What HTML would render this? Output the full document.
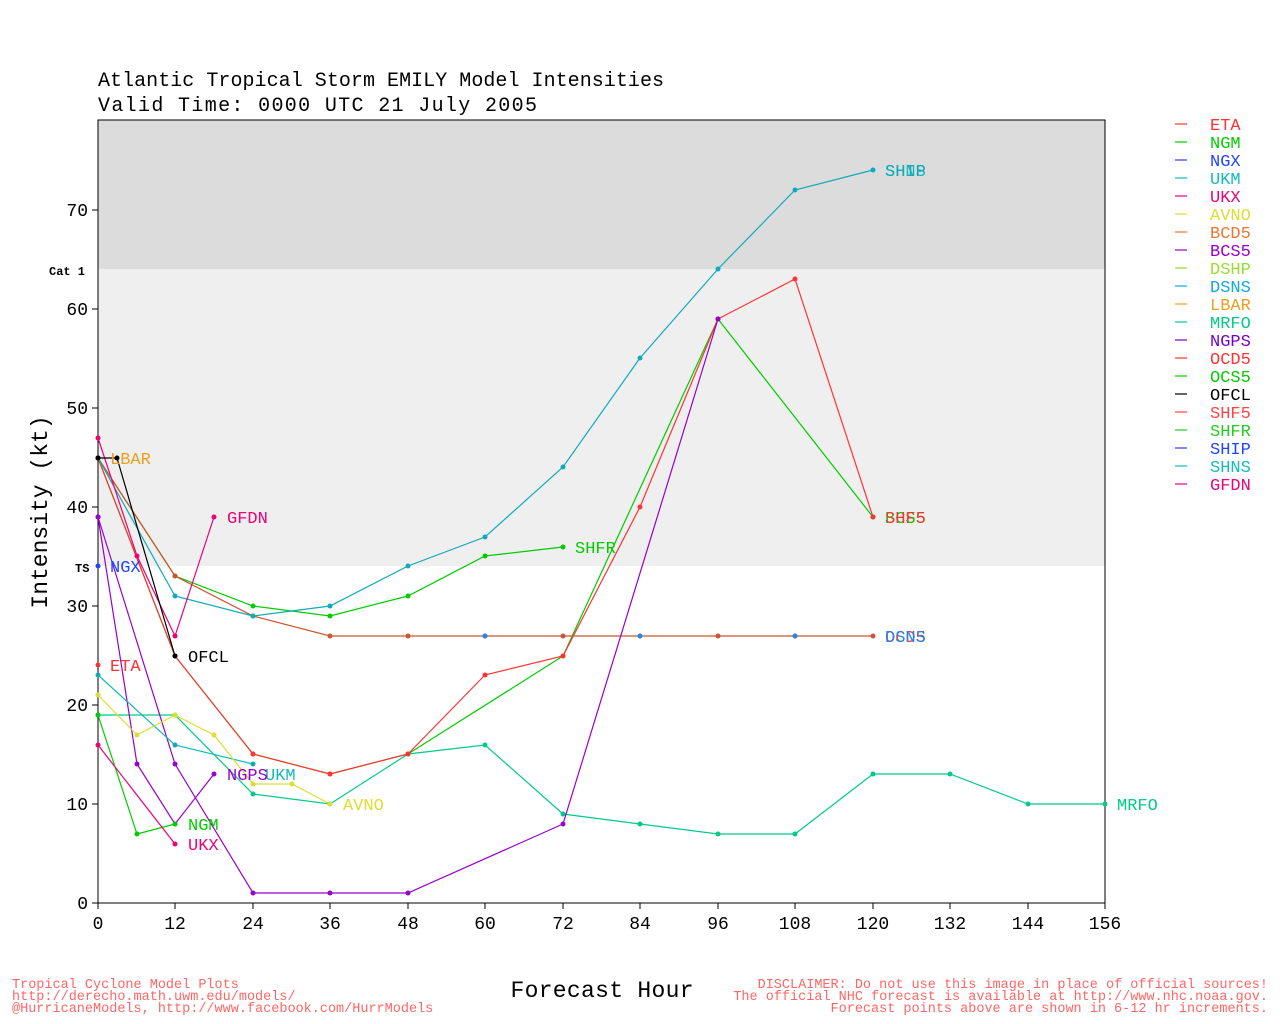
<!DOCTYPE html>
<html><head><meta charset="utf-8"><style>
body{margin:0;background:#fff}
svg{display:block;font-family:"Liberation Mono","DejaVu Sans Mono",monospace}
</style></head><body>
<svg width="1280" height="1024" viewBox="0 0 1280 1024" xmlns="http://www.w3.org/2000/svg">
<defs>
<marker id="mr" markerWidth="6" markerHeight="6" refX="3" refY="3" markerUnits="userSpaceOnUse"><circle cx="3" cy="3" r="2.5" fill="#f33"/></marker>
<marker id="mg" markerWidth="6" markerHeight="6" refX="3" refY="3" markerUnits="userSpaceOnUse"><circle cx="3" cy="3" r="2.5" fill="#0c0"/></marker>
<marker id="mc" markerWidth="6" markerHeight="6" refX="3" refY="3" markerUnits="userSpaceOnUse"><circle cx="3" cy="3" r="2.5" fill="#1ab"/></marker>
<marker id="mt" markerWidth="6" markerHeight="6" refX="3" refY="3" markerUnits="userSpaceOnUse"><circle cx="3" cy="3" r="2.5" fill="#0c8"/></marker>
<marker id="mp" markerWidth="6" markerHeight="6" refX="3" refY="3" markerUnits="userSpaceOnUse"><circle cx="3" cy="3" r="2.5" fill="#90c"/></marker>
<marker id="mm" markerWidth="6" markerHeight="6" refX="3" refY="3" markerUnits="userSpaceOnUse"><circle cx="3" cy="3" r="2.5" fill="#e07"/></marker>
<marker id="my" markerWidth="6" markerHeight="6" refX="3" refY="3" markerUnits="userSpaceOnUse"><circle cx="3" cy="3" r="2.5" fill="#dd3"/></marker>
<marker id="mk" markerWidth="6" markerHeight="6" refX="3" refY="3" markerUnits="userSpaceOnUse"><circle cx="3" cy="3" r="2.5" fill="#000"/></marker>
<marker id="mo" markerWidth="6" markerHeight="6" refX="3" refY="3" markerUnits="userSpaceOnUse"><circle cx="3" cy="3" r="2.5" fill="#c53"/></marker>
</defs>
<rect x="98" y="120" width="1007" height="149" fill="#dcdcdc"/>
<rect x="98" y="269" width="1007" height="297" fill="#efefef"/>
<rect x="98" y="120" width="1007" height="783" fill="none" stroke="#000" stroke-width="1"/>
<g font-size="20" fill="#000">
<text x="98" y="86" textLength="566">Atlantic Tropical Storm EMILY Model Intensities</text>
<text x="98" y="111" textLength="439">Valid Time: 0000 UTC 21 July 2005</text>
</g>
<g stroke="#000">
<line x1="92" y1="903" x2="98" y2="903"/><line x1="92" y1="804" x2="98" y2="804"/><line x1="92" y1="705" x2="98" y2="705"/><line x1="92" y1="606" x2="98" y2="606"/><line x1="92" y1="507" x2="98" y2="507"/><line x1="92" y1="408" x2="98" y2="408"/><line x1="92" y1="309" x2="98" y2="309"/><line x1="92" y1="210" x2="98" y2="210"/>
<line x1="98" y1="903" x2="98" y2="909"/><line x1="175" y1="903" x2="175" y2="909"/><line x1="253" y1="903" x2="253" y2="909"/><line x1="330" y1="903" x2="330" y2="909"/><line x1="408" y1="903" x2="408" y2="909"/><line x1="485" y1="903" x2="485" y2="909"/><line x1="563" y1="903" x2="563" y2="909"/><line x1="640" y1="903" x2="640" y2="909"/><line x1="718" y1="903" x2="718" y2="909"/><line x1="795" y1="903" x2="795" y2="909"/><line x1="873" y1="903" x2="873" y2="909"/><line x1="950" y1="903" x2="950" y2="909"/><line x1="1028" y1="903" x2="1028" y2="909"/><line x1="1105" y1="903" x2="1105" y2="909"/>
</g>
<g font-size="18" text-anchor="end">
<text x="88" y="909">0</text><text x="88" y="810">10</text><text x="88" y="711">20</text><text x="88" y="612">30</text><text x="88" y="513">40</text><text x="88" y="414">50</text><text x="88" y="315">60</text><text x="88" y="216">70</text>
</g>
<g font-size="18" text-anchor="middle">
<text x="98" y="929">0</text><text x="175" y="929">12</text><text x="253" y="929">24</text><text x="330" y="929">36</text><text x="408" y="929">48</text><text x="485" y="929">60</text><text x="563" y="929">72</text><text x="640" y="929">84</text><text x="718" y="929">96</text><text x="795" y="929">108</text><text x="873" y="929">120</text><text x="950" y="929">132</text><text x="1028" y="929">144</text><text x="1105" y="929">156</text>
</g>
<g font-size="12" font-weight="bold"><text x="49" y="275">Cat 1</text><text x="75" y="572">TS</text></g>
<text x="47" y="512" font-size="23" text-anchor="middle" transform="rotate(-90 47 512)">Intensity (kt)</text>
<text x="602" y="997" font-size="23" text-anchor="middle" textLength="183">Forecast Hour</text>
<g font-size="13.5" fill="#f66">
<text x="12" y="988">Tropical Cyclone Model Plots</text>
<text x="12" y="1000">http://derecho.math.uwm.edu/models/</text>
<text x="12" y="1012">@HurricaneModels, http://www.facebook.com/HurrModels</text>
<g text-anchor="end"><text x="1268" y="988">DISCLAIMER: Do not use this image in place of official sources!</text>
<text x="1268" y="1000">The official NHC forecast is available at http://www.nhc.noaa.gov.</text>
<text x="1268" y="1012">Forecast points above are shown in 6-12 hr increments.</text></g>
</g>
<g fill="none" stroke-width="1.2">
<polyline stroke="#0c8" marker-start="url(#mt)" marker-mid="url(#mt)" marker-end="url(#mt)" points="98,715 175,715 253,794 330,804 408,754 485,745 563,814 640,824 718,834 795,834 873,774 950,774 1028,804 1105,804"/>
<polyline stroke="#0c0" marker-start="url(#mg)" marker-mid="url(#mg)" marker-end="url(#mg)" points="98,458 175,656 253,754 330,774 408,754 563,656 718,319 873,517"/>
<polyline stroke="#f33" marker-start="url(#mr)" marker-mid="url(#mr)" marker-end="url(#mr)" points="98,458 175,656 253,754 330,774 408,754 485,675 563,656 640,507 718,319 795,279 873,517"/>
<polyline stroke="#0c0" marker-start="url(#mg)" marker-mid="url(#mg)" marker-end="url(#mg)" points="98,458 175,576 253,606 330,616 408,596 485,556 563,547"/>
<polyline stroke="#c53" marker-start="url(#mo)" marker-mid="url(#mo)" marker-end="url(#mo)" points="98,458 175,576 253,616 330,636 408,636 485,636 563,636 640,636 718,636 795,636 873,636"/>
<polyline stroke="#1ab" marker-start="url(#mc)" marker-mid="url(#mc)" marker-end="url(#mc)" points="98,458 175,596 253,616 330,606 408,566 485,537 563,467 640,358 718,269 795,190 873,170"/>
<polyline stroke="#90c" marker-start="url(#mp)" marker-mid="url(#mp)" marker-end="url(#mp)" points="98,517 175,764 253,893 330,893 408,893 563,824 718,319"/>
<polyline stroke="#90c" marker-start="url(#mp)" marker-mid="url(#mp)" marker-end="url(#mp)" points="98,517 137,764 175,824 214,774"/>
<polyline stroke="#1bb" marker-start="url(#mc)" marker-mid="url(#mc)" marker-end="url(#mc)" points="98,675 175,745 253,764"/>
<polyline stroke="#dd3" marker-start="url(#my)" marker-mid="url(#my)" marker-end="url(#my)" points="98,695 137,735 175,715 214,735 253,784 292,784 330,804"/>
<polyline stroke="#0c0" marker-start="url(#mg)" marker-mid="url(#mg)" marker-end="url(#mg)" points="98,715 137,834 175,824"/>
<polyline stroke="#e07" marker-start="url(#mm)" marker-end="url(#mm)" points="98,745 175,844"/>
<polyline stroke="#e07" marker-start="url(#mm)" marker-mid="url(#mm)" marker-end="url(#mm)" points="98,438 137,556 175,636 214,517"/>
<polyline stroke="#000" marker-start="url(#mk)" marker-mid="url(#mk)" marker-end="url(#mk)" points="98,458 117,458 175,656"/>
</g>
<circle cx="98" cy="665" r="2.5" fill="#f33"/><circle cx="98" cy="566" r="2.5" fill="#24f"/>
<circle cx="485" cy="636" r="2.5" fill="#28e"/><circle cx="640" cy="636" r="2.5" fill="#28e"/><circle cx="795" cy="636" r="2.5" fill="#28e"/>
<g font-size="17">
<text x="110" y="464" fill="#e9a020">LBAR</text>
<text x="227" y="523" fill="#e07">GFDN</text>
<text x="110" y="572" fill="#24f">NGX</text>
<text x="110" y="671" fill="#f33">ETA</text>
<text x="188" y="662" fill="#000">OFCL</text>
<text x="265" y="780" fill="#1bb">UKM</text>
<text x="227" y="780" fill="#90c">NGPS</text>
<text x="188" y="830" fill="#0c0">NGM</text>
<text x="188" y="850" fill="#e07">UKX</text>
<text x="343" y="810" fill="#dd3">AVNO</text>
<text x="575" y="553" fill="#0c0">SHFR</text>
<text x="885" y="176" fill="#1bb">SHNS</text>
<text x="885" y="176" fill="#1ab">SHIP</text>
<text x="885" y="523" fill="#0c0">BCS5</text>
<text x="885" y="523" fill="#f33">SHF5</text>
<text x="885" y="642" fill="#f33">OCD5</text>
<text x="885" y="642" fill="#28e">DSNS</text>
<text x="1117" y="810" fill="#0c8">MRFO</text>
</g>
<g font-size="17">
<g stroke-width="1.2">
<line x1="1175" y1="124" x2="1187" y2="124" stroke="#f33"/><line x1="1175" y1="142" x2="1187" y2="142" stroke="#0c0"/><line x1="1175" y1="160" x2="1187" y2="160" stroke="#24f"/><line x1="1175" y1="178" x2="1187" y2="178" stroke="#1bb"/><line x1="1175" y1="196" x2="1187" y2="196" stroke="#e07"/><line x1="1175" y1="214" x2="1187" y2="214" stroke="#dd3"/><line x1="1175" y1="232" x2="1187" y2="232" stroke="#e73"/><line x1="1175" y1="250" x2="1187" y2="250" stroke="#90c"/><line x1="1175" y1="268" x2="1187" y2="268" stroke="#9d3"/><line x1="1175" y1="286" x2="1187" y2="286" stroke="#1ad"/><line x1="1175" y1="304" x2="1187" y2="304" stroke="#e9a020"/><line x1="1175" y1="322" x2="1187" y2="322" stroke="#0c8"/><line x1="1175" y1="340" x2="1187" y2="340" stroke="#70c"/><line x1="1175" y1="358" x2="1187" y2="358" stroke="#f33"/><line x1="1175" y1="376" x2="1187" y2="376" stroke="#0c0"/><line x1="1175" y1="394" x2="1187" y2="394" stroke="#000"/><line x1="1175" y1="412" x2="1187" y2="412" stroke="#f44"/><line x1="1175" y1="430" x2="1187" y2="430" stroke="#2c2"/><line x1="1175" y1="448" x2="1187" y2="448" stroke="#24f"/><line x1="1175" y1="466" x2="1187" y2="466" stroke="#1bb"/><line x1="1175" y1="484" x2="1187" y2="484" stroke="#e07"/>
</g>
<text x="1210" y="130" fill="#f33">ETA</text><text x="1210" y="148" fill="#0c0">NGM</text><text x="1210" y="166" fill="#24f">NGX</text><text x="1210" y="184" fill="#1bb">UKM</text><text x="1210" y="202" fill="#e07">UKX</text><text x="1210" y="220" fill="#dd3">AVNO</text><text x="1210" y="238" fill="#e73">BCD5</text><text x="1210" y="256" fill="#90c">BCS5</text><text x="1210" y="274" fill="#9d3">DSHP</text><text x="1210" y="292" fill="#1ad">DSNS</text><text x="1210" y="310" fill="#e9a020">LBAR</text><text x="1210" y="328" fill="#0c8">MRFO</text><text x="1210" y="346" fill="#70c">NGPS</text><text x="1210" y="364" fill="#f33">OCD5</text><text x="1210" y="382" fill="#0c0">OCS5</text><text x="1210" y="400" fill="#000">OFCL</text><text x="1210" y="418" fill="#f44">SHF5</text><text x="1210" y="436" fill="#2c2">SHFR</text><text x="1210" y="454" fill="#24f">SHIP</text><text x="1210" y="472" fill="#1bb">SHNS</text><text x="1210" y="490" fill="#e07">GFDN</text>
</g>
</svg>
</body></html>
